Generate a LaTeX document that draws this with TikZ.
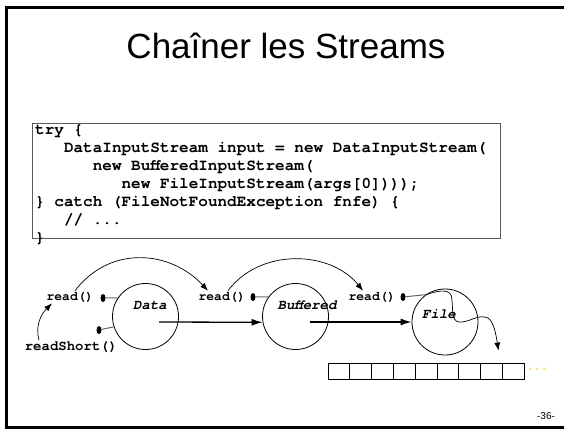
\documentclass[tikz,border=0pt]{standalone}
\usepackage{fontspec}
\setmainfont{Liberation Sans}
\setmonofont{texgyrecursor}[Extension=.otf,
    UprightFont=*-regular, BoldFont=*-bold,
    ItalicFont=*-italic, BoldItalicFont=*-bolditalic]
\usetikzlibrary{arrows.meta, positioning, shapes.geometric}
\definecolor{codegray}{RGB}{90,90,90}
\definecolor{dotyellow}{RGB}{242,232,120}

\begin{document}
\begin{tikzpicture}[x=1pt, y=-1pt]
    % Setup the styles for the streams and their methods
    \tikzset{stream/.style={circle, draw, line width=.8pt,
                            minimum size=66pt, inner sep=0pt},
             sname/.style={font=\fontsize{14}{14}\selectfont\ttfamily\bfseries\itshape,
                           inner sep=0pt},
             method/.style={font=\fontsize{13}{13}\selectfont\ttfamily\bfseries,
                            inner sep=1pt},
             pin/.style={ellipse, fill, minimum width=5pt,
                         minimum height=8pt, inner sep=0pt},
             stub/.style={draw=black!60, line width=1pt},
             cell/.style={draw, line width=.8pt, minimum width=21.8pt,
                          minimum height=16pt, inner sep=0pt},
             call/.style={-{Latex[length=8pt, width=6pt]}, line width=.7pt},
             flow/.style={-{Latex[length=11pt, width=7pt]}, line width=1.3pt}}

    % Slide frame
    \clip (0,0) rectangle (564,428);
    \draw[line width=3pt] (570,8) -- (6,8) -- (6,427) -- (570,427);

    % Title and code
    \node[font=\fontsize{35}{35}\selectfont] (title) at (286,46) {Chaîner les Streams};
    \node[draw=codegray, line width=1pt, minimum width=468pt,
          minimum height=115pt, inner sep=0pt] (codebox) at (266,180.5) {};
    \node[anchor=north west, align=left, inner sep=0pt,
          font=\fontsize{16}{18}\selectfont\ttfamily\bfseries] (code) at (35,124)
        {try \{\\
         \hphantom{xxx}DataInputStream input = new DataInputStream(\\
         \hphantom{xxxxxx}new BufferedInputStream(\\
         \hphantom{xxxxxxxxx}new FileInputStream(args[0])));\\
         \} catch (FileNotFoundException fnfe) \{\\
         \hphantom{xxx}// ...\\
         \}};

    % Draw the streams
    \node[stream] (data)     at (145.5,316.5) {};
    \node[stream] (buffered) at (295.5,316.5) {};
    \node[stream] (file)     at (445,322)     {};
    \node[sname]  (dname)    at (150,305)     {Data};
    \node[sname]  (bname)    at (307,305)     {Buffered};
    \node[sname]  (fname)    at (439,314)     {File};

    % Methods and their pins
    \node[method] (dread)  at (70,297)  {read()};
    \node[method, font=\fontsize{14}{14}\selectfont\ttfamily\bfseries]
                  (rshort) at (71,347)  {readShort()};
    \node[method] (bread)  at (222,297) {read()};
    \node[method] (fread)  at (372,297) {read()};
    \node[pin] (dpin)  at (103,298) {};
    \node[pin] (spin)  at (99,330)  {};
    \node[pin] (bpin)  at (253,297) {};
    \node[pin] (fpin)  at (403,297) {};
    \draw[stub] (dpin) -- (data.146);
    \draw[stub] (spin) -- (data.198);
    \draw[stub] (bpin) -- (buffered.144);
    \draw[stub] (fpin) -- (file.125);

    % Buffer cells
    \foreach \i in {1,...,9}
        \node[cell] (c\i) at ({328+21.8*(\i-0.5)},371) {};
    \node[text=dotyellow, font=\fontsize{16}{16}\selectfont\bfseries, anchor=west]
        (more) at ([yshift=2pt]c9.east) {.\,.\,.};
    \coordinate (slot) at ([xshift=7pt, yshift=12pt]c8.north);

    % Connect the calls
    \draw[call] ([xshift=5pt]dread.north) .. controls (110,245) and (170,250)
        .. ([xshift=-14pt]bread.north);
    \draw[call] ([xshift=6pt]bread.north) .. controls (260,248) and (330,250)
        .. ([xshift=-9pt]fread.north);
    \draw[call] ([xshift=-32pt]rshort.north) to[out=105, in=225] ([xshift=-18pt]dread.south);
    \draw[call] (file.125) .. controls (440,290) and (452,288) .. (452,300)
        .. controls (453,315) and (452,323) .. (462,322)
        .. controls (472,321) and (478,314) .. (488,318)
        .. controls (494,322) and (496,335) .. (slot);
    \draw[flow] ([shift={(13.5,5.5)}]data.center) -- (buffered.190);
    \draw[flow] ([shift={(14.5,5.5)}]buffered.center) -- (file.west);

    % Page number
    \node[font=\fontsize{10}{10}\selectfont] (page) at (546,416) {-36-};
\end{tikzpicture}
\end{document}
